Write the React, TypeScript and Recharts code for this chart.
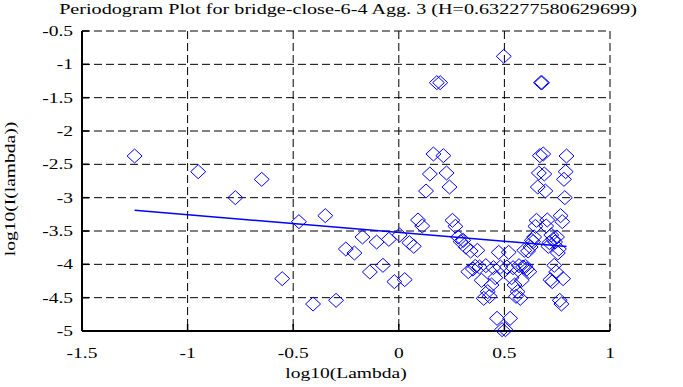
import { ScatterChart, Scatter, XAxis, YAxis, CartesianGrid } from 'recharts'

// log10 of the Fourier frequencies (2*pi*k/n, k = 1..111)
const freqLog = [
  -1.251, -0.95, -0.774, -0.649, -0.552, -0.473, -0.406, -0.348, -0.297, -0.251,
  -0.21, -0.172, -0.137, -0.105, -0.075, -0.047, -0.021, 0.004, 0.028, 0.05,
  0.071, 0.091, 0.111, 0.129, 0.147, 0.164, 0.18, 0.196, 0.211, 0.226,
  0.24, 0.254, 0.268, 0.281, 0.293, 0.305, 0.317, 0.329, 0.34, 0.351,
  0.362, 0.372, 0.382, 0.392, 0.402, 0.412, 0.421, 0.43, 0.439, 0.448,
  0.457, 0.465, 0.473, 0.481, 0.489, 0.497, 0.505, 0.512, 0.52, 0.527,
  0.534, 0.541, 0.548, 0.555, 0.562, 0.569, 0.575, 0.582, 0.588, 0.594,
  0.6, 0.606, 0.612, 0.618, 0.624, 0.63, 0.636, 0.641, 0.647, 0.652,
  0.658, 0.663, 0.668, 0.673, 0.678, 0.684, 0.689, 0.694, 0.698, 0.703,
  0.708, 0.713, 0.718, 0.722, 0.727, 0.731, 0.736, 0.74, 0.745, 0.749,
  0.753, 0.758, 0.762, 0.766, 0.77, 0.774, 0.778, 0.782, 0.786, 0.79,
  0.794,
]

// log10 of the periodogram at each frequency
const powerLog = [
  -2.375, -2.61, -3.0, -2.725, -4.215, -3.36, -4.595, -3.27, -4.54, -3.77,
  -3.83, -3.59, -4.115, -3.665, -4.015, -3.625, -4.26, -3.56, -4.23, -3.675,
  -3.73, -3.335, -3.425, -2.9, -2.645, -2.345, -1.275, -1.275, -2.37, -2.63,
  -2.84, -3.34, -3.43, -3.59, -3.66, -3.64, -3.74, -4.11, -3.8, -4.07,
  -4.03, -3.79, -4.04, -4.24, -4.51, -4.02, -4.41, -4.48, -4.31, -4.05,
  -4.2, -4.81, -3.82, -4.04, -4.98, -0.88, -4.98, -4.04, -3.82, -4.81,
  -4.2, -4.05, -4.31, -4.48, -4.41, -4.02, -4.51, -4.24, -4.04, -3.79,
  -4.03, -4.07, -3.8, -4.11, -3.74, -3.64, -3.66, -3.59, -3.43, -3.34,
  -2.84, -2.63, -2.37, -1.275, -1.275, -2.345, -2.645, -2.9, -3.425, -3.335,
  -3.73, -3.675, -4.23, -3.56, -4.26, -3.625, -4.015, -3.665, -4.115, -3.59,
  -3.83, -3.77, -4.54, -3.27, -4.595, -3.36, -4.215, -2.725, -3.0, -2.61,
  -2.375,
]

// least squares fit, slope 1 - 2H
const fitX = [-1.251, 0.794]
const fitY = [-3.19, -3.731]

const xTicks = [-1.5, -1, -0.5, 0, 0.5, 1]
const yTicks = [-5, -4.5, -4, -3.5, -3, -2.5, -2, -1.5, -1, -0.5]

const points = freqLog.map((x, i) => ({ x, y: powerLog[i] }))
const fit = fitX.map((x, i) => ({ x, y: fitY[i] }))

const FONT = '"Liberation Serif", "Times New Roman", serif'
const STRETCH = 1.3
const BLUE = '#0000ff'
const TICK = 7

const Diamond = (props: any) => {
  const { cx, cy } = props
  if (cx == null || cy == null) return <g />
  return (
    <path
      d={`M${cx} ${cy - 7}L${cx + 7.5} ${cy}L${cx} ${cy + 7}L${cx - 7.5} ${cy}Z`}
      fill="none"
      stroke={BLUE}
      strokeWidth={1}
    />
  )
}

const BottomTick = ({ x, y, payload }: any) => (
  <g>
    <line x1={x} x2={x} y1={y - 27} y2={y - 27 - TICK} stroke="#000" strokeWidth={1.5} />
    <text transform={`translate(${x},${y}) scale(${STRETCH},1)`} textAnchor="middle" fontFamily={FONT} fontSize={15} fill="#000">
      {payload.value}
    </text>
  </g>
)

const LeftTick = ({ x, y, payload }: any) => (
  <g>
    <line x1={x + 9} x2={x + 9 + TICK} y1={y} y2={y} stroke="#000" strokeWidth={1.5} />
    <text transform={`translate(${x},${y + 5}) scale(${STRETCH},1)`} textAnchor="end" fontFamily={FONT} fontSize={15} fill="#000">
      {payload.value}
    </text>
  </g>
)

const TopTick = ({ x, y }: any) => <line x1={x} x2={x} y1={y} y2={y + TICK} stroke="#000" strokeWidth={1.5} />
const RightTick = ({ x, y }: any) => <line x1={x} x2={x - TICK} y1={y} y2={y} stroke="#000" strokeWidth={1.5} />

const label = (left: number, top: number, size = 15, extra = ''): React.CSSProperties => ({
  position: 'absolute',
  left,
  top,
  transform: `translate(-50%, -50%) ${extra} scaleX(${STRETCH})`,
  whiteSpace: 'nowrap',
  fontFamily: FONT,
  fontSize: size,
  lineHeight: 1,
  color: '#000',
})

export default function App() {
  const border = { stroke: '#000', strokeWidth: 2 }
  return (
    <div style={{ position: 'absolute', left: 0, top: 0, width: 683, height: 387, background: '#fff' }}>
      <ScatterChart width={683} height={387} margin={{ top: 31, right: 73, bottom: 0, left: 0 }}>
        <CartesianGrid xAxisId="b" yAxisId="l" stroke="#000" strokeDasharray="8 4" />
        <XAxis xAxisId="b" type="number" dataKey="x" domain={[-1.5, 1]} ticks={xTicks} interval={0}
          height={56} tickSize={0} tickMargin={27} axisLine={border} tickLine={false} tick={BottomTick} />
        <XAxis xAxisId="t" orientation="top" type="number" dataKey="x" domain={[-1.5, 1]} ticks={xTicks} interval={0}
          height={0} tickSize={0} tickMargin={0} axisLine={border} tickLine={false} tick={TopTick} />
        <YAxis yAxisId="l" type="number" dataKey="y" domain={[-5, -0.5]} ticks={yTicks} interval={0}
          width={82} tickSize={0} tickMargin={9} axisLine={border} tickLine={false} tick={LeftTick} />
        <YAxis yAxisId="r" orientation="right" type="number" dataKey="y" domain={[-5, -0.5]} ticks={yTicks} interval={0}
          width={0} tickSize={0} tickMargin={0} axisLine={border} tickLine={false} tick={RightTick} />
        <Scatter xAxisId="b" yAxisId="l" data={points} shape={Diamond} isAnimationActive={false} />
        <Scatter xAxisId="b" yAxisId="l" data={fit} line={{ stroke: BLUE, strokeWidth: 1.5 }} shape={() => <g />} isAnimationActive={false} />
      </ScatterChart>
      <div style={label(348, 9, 15.5)}>Periodogram Plot for bridge-close-6-4 Agg. 3 (H=0.632277580629699)</div>
      <div style={label(346, 373)}>log10(Lambda)</div>
      <div style={label(10, 189, 15, 'rotate(-90deg)')}>log10(I(lambda))</div>
    </div>
  )
}
